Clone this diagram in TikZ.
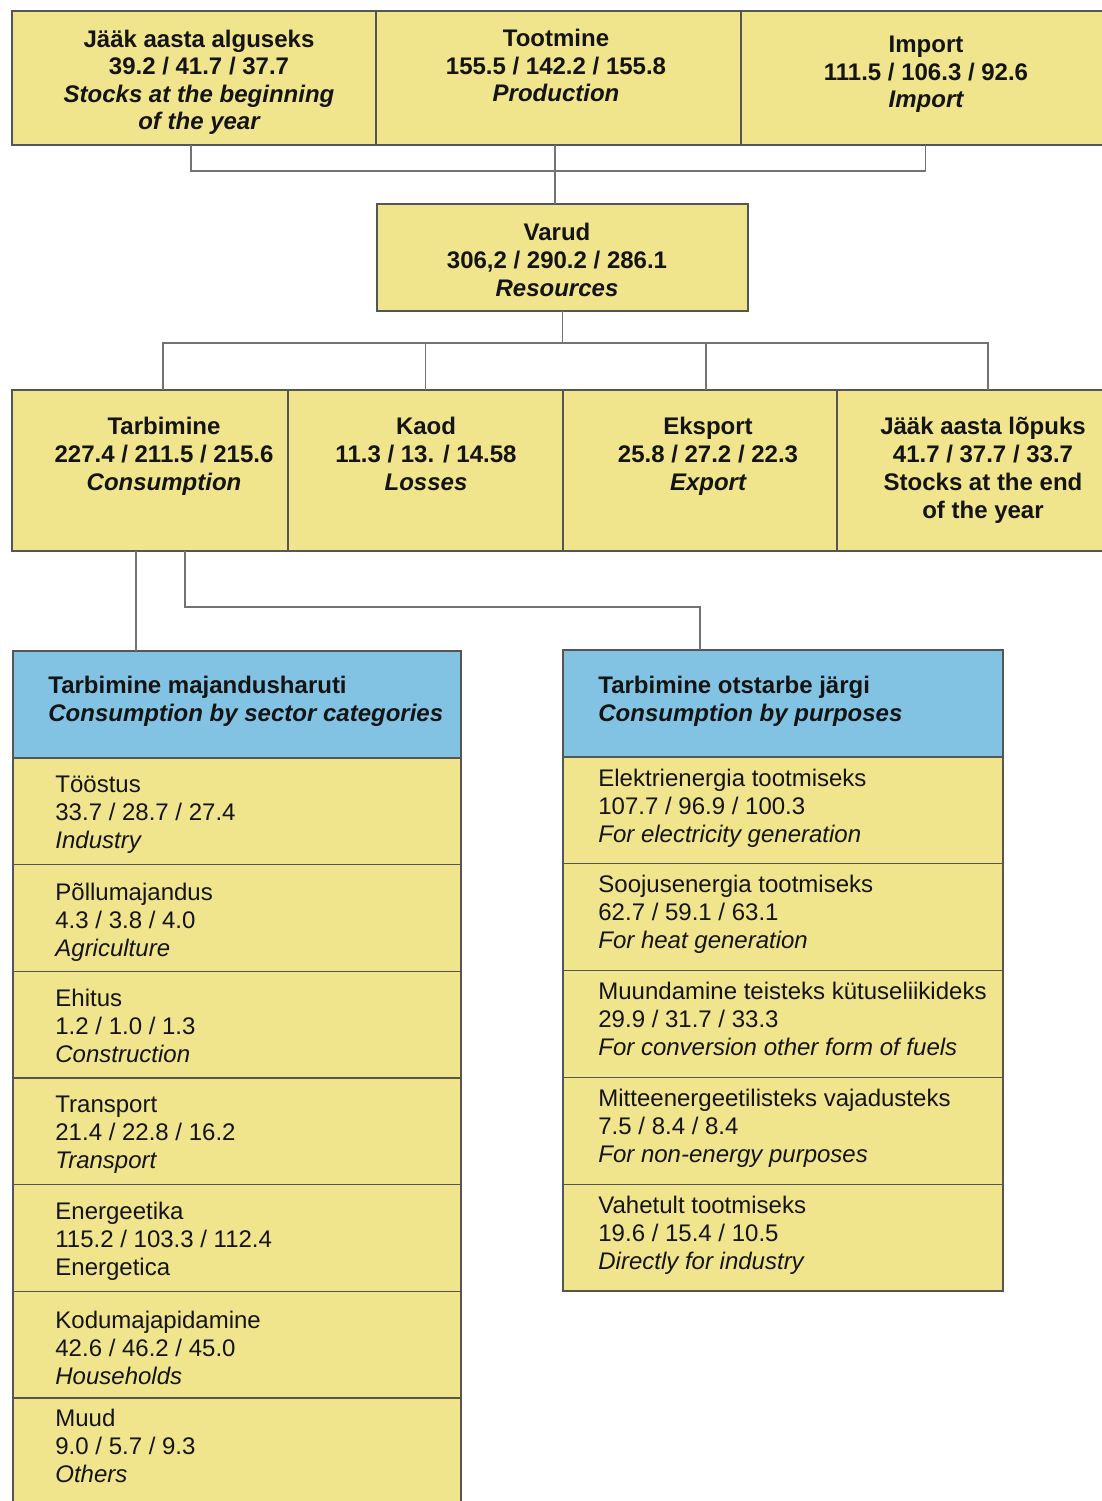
\documentclass[tikz,border=0pt]{standalone}
\usepackage{fontspec}
\setmainfont{Liberation Sans}
\usepackage{array}
\definecolor{yellowc}{RGB}{240,228,140}
\definecolor{bluec}{RGB}{130,195,228}
\definecolor{bordc}{RGB}{85,85,85}
\definecolor{connc}{RGB}{115,115,115}
\definecolor{txtc}{RGB}{20,20,20}
\newcommand\cstack[1]{\begin{tabular}[t]{@{}c@{}}#1\end{tabular}}
\newcommand\lstack[1]{\begin{tabular}[t]{@{}l@{}}#1\end{tabular}}
\newcommand\pxcell[6]{\node[#1, anchor=north west, minimum width=#4*0.5pt, minimum height=#5*0.5pt] (#2) at (#3) {#6};}
\tikzset{
  cellbox/.style={draw=bordc, line width=0.6pt, inner sep=0pt, outer sep=0pt},
  yb/.style={cellbox, fill=yellowc},
  bb/.style={cellbox, fill=bluec},
  conn/.style={draw=connc, line width=0.6pt},
  clbl/.style={anchor=base, inner sep=0pt, text=txtc, font=\fontsize{12}{14}\selectfont},
  clbltop/.style={anchor=base, inner sep=0pt, text=txtc, font=\fontsize{12}{13.75}\selectfont},
  llbl/.style={anchor=base west, inner sep=0pt, text=txtc, font=\fontsize{12}{14}\selectfont},
}
\begin{document}
\begin{tikzpicture}[x=0.5pt,y=-0.5pt]
\useasboundingbox (0,0) rectangle (1102,1501);
\clip (0,0) rectangle (1102,1501);
\fill[white] (0,0) rectangle (1102,1501);
% top row
\pxcell{yb}{b1}{12,11}{364}{134}{}
\pxcell{yb}{b2}{376,11}{365}{134}{}
\pxcell{yb}{b3}{741,11}{369}{134}{}
% resources
\pxcell{yb}{v}{377,204}{371}{107}{}
% second row
\pxcell{yb}{t}{12,390}{276}{161}{}
\pxcell{yb}{k}{288,390}{275}{161}{}
\pxcell{yb}{e}{563,390}{274}{161}{}
\pxcell{yb}{j}{837,390}{273}{161}{}
% left table
\pxcell{bb}{lh}{13,651}{448}{107}{}
\pxcell{yb}{l1}{13,758}{448}{106.67}{}
\pxcell{yb}{l2}{13,864.67}{448}{106.67}{}
\pxcell{yb}{l3}{13,971.33}{448}{106.67}{}
\pxcell{yb}{l4}{13,1078}{448}{106.67}{}
\pxcell{yb}{l5}{13,1184.67}{448}{106.67}{}
\pxcell{yb}{l6}{13,1291.33}{448}{106.67}{}
\pxcell{yb}{l7}{13,1398}{448}{120}{}
% right table
\pxcell{bb}{rh}{563,650}{440}{107}{}
\pxcell{yb}{r1}{563,757}{440}{106.8}{}
\pxcell{yb}{r2}{563,863.8}{440}{106.8}{}
\pxcell{yb}{r3}{563,970.6}{440}{106.8}{}
\pxcell{yb}{r4}{563,1077.4}{440}{106.8}{}
\pxcell{yb}{r5}{563,1184.2}{440}{106.8}{}
% junction coordinates
\coordinate (jt) at (0,171);
\coordinate (jm) at (0,343);
\coordinate (jb) at (0,607);
% connectors
\draw[conn] ([xshift=-1.5pt]b1.south) |- (b3.south |- jt) -- (b3.south);
\draw[conn] ([xshift=-1.75pt]b2.south) -- ([xshift=-1.75pt]b2.south |- v.north);
\draw[conn] (v.south) -- (v.south |- jm);
\draw[conn] ([xshift=6.5pt]t.north) |- ([xshift=7.25pt]j.north |- jm) -- ([xshift=7.25pt]j.north);
\draw[conn] (k.north) -- (k.north |- jm);
\draw[conn] ([xshift=3pt]e.north) -- ([xshift=3pt]e.north |- jm);
\draw[conn] ([xshift=-7pt]t.south) -- ([xshift=-7pt]t.south |- lh.north);
\draw[conn] ([xshift=17.5pt]t.south) |- ([xshift=-41.5pt]rh.north |- jb) -- ([xshift=-41.5pt]rh.north);
% top texts
\node[clbltop] (tb1) at (199,47) {\bfseries\cstack{J\"a\"ak aasta alguseks\\39.2 / 41.7 / 37.7\\\itshape Stocks at the beginning\\\itshape of the year}};
\node[clbltop] (tb2) at (556,46.5) {\bfseries\cstack{Tootmine\\155.5 / 142.2 / 155.8\\\itshape Production}};
\node[clbltop] (tb3) at (926,52.5) {\bfseries\cstack{Import\\111.5 / 106.3 / 92.6\\\itshape Import}};
\node[clbl] (tv) at (557,240) {\bfseries\cstack{Varud\\306,2 / 290.2 / 286.1\\\itshape Resources}};
% second row texts
\node[clbl] (tt) at (164,434) {\bfseries\cstack{Tarbimine\\227.4 / 211.5 / 215.6\\\itshape Consumption}};
\node[clbl] (tk) at (426,434) {\bfseries\cstack{Kaod\\11.3 / 13. / 14.58\\\itshape Losses}};
\node[clbl] (te) at (708,434) {\bfseries\cstack{Eksport\\25.8 / 27.2 / 22.3\\\itshape Export}};
\node[clbl] (tj) at (983,434) {\bfseries\cstack{J\"a\"ak aasta l\~opuks\\41.7 / 37.7 / 33.7\\Stocks at the end\\of the year}};
% headers
\node[llbl] (tlh) at (48,693) {\bfseries\lstack{Tarbimine majandusharuti\\\itshape Consumption by sector categories}};
\node[llbl] (trh) at (598,693) {\bfseries\lstack{Tarbimine otstarbe j\"argi\\\itshape Consumption by purposes}};
% left rows
\node[llbl] (tl1) at (55,792) {\lstack{T\"o\"ostus\\33.7 / 28.7 / 27.4\\\itshape Industry}};
\node[llbl] (tl2) at (55,900) {\lstack{P\~ollumajandus\\4.3 / 3.8 / 4.0\\\itshape Agriculture}};
\node[llbl] (tl3) at (55,1006) {\lstack{Ehitus\\1.2 / 1.0 / 1.3\\\itshape Construction}};
\node[llbl] (tl4) at (55,1112) {\lstack{Transport\\21.4 / 22.8 / 16.2\\\itshape Transport}};
\node[llbl] (tl5) at (55,1219) {\lstack{Energeetika\\115.2 / 103.3 / 112.4\\Energetica}};
\node[llbl] (tl6) at (55,1328) {\lstack{Kodumajapidamine\\42.6 / 46.2 / 45.0\\\itshape Households}};
\node[llbl] (tl7) at (55,1426) {\lstack{Muud\\9.0 / 5.7 / 9.3\\\itshape Others}};
% right rows
\node[llbl] (tr1) at (598,786) {\lstack{Elektrienergia tootmiseks\\107.7 / 96.9 / 100.3\\\itshape For electricity generation}};
\node[llbl] (tr2) at (598,892) {\lstack{Soojusenergia tootmiseks\\62.7 / 59.1 / 63.1\\\itshape For heat generation}};
\node[llbl] (tr3) at (598,999) {\lstack{Muundamine teisteks k\"utuseliikideks\\29.9 / 31.7 / 33.3\\\itshape For conversion other form of fuels}};
\node[llbl] (tr4) at (598,1106) {\lstack{Mitteenergeetilisteks vajadusteks\\7.5 / 8.4 / 8.4\\\itshape For non-energy purposes}};
\node[llbl] (tr5) at (598,1213) {\lstack{Vahetult tootmiseks\\19.6 / 15.4 / 10.5\\\itshape Directly for industry}};
\end{tikzpicture}
\end{document}
